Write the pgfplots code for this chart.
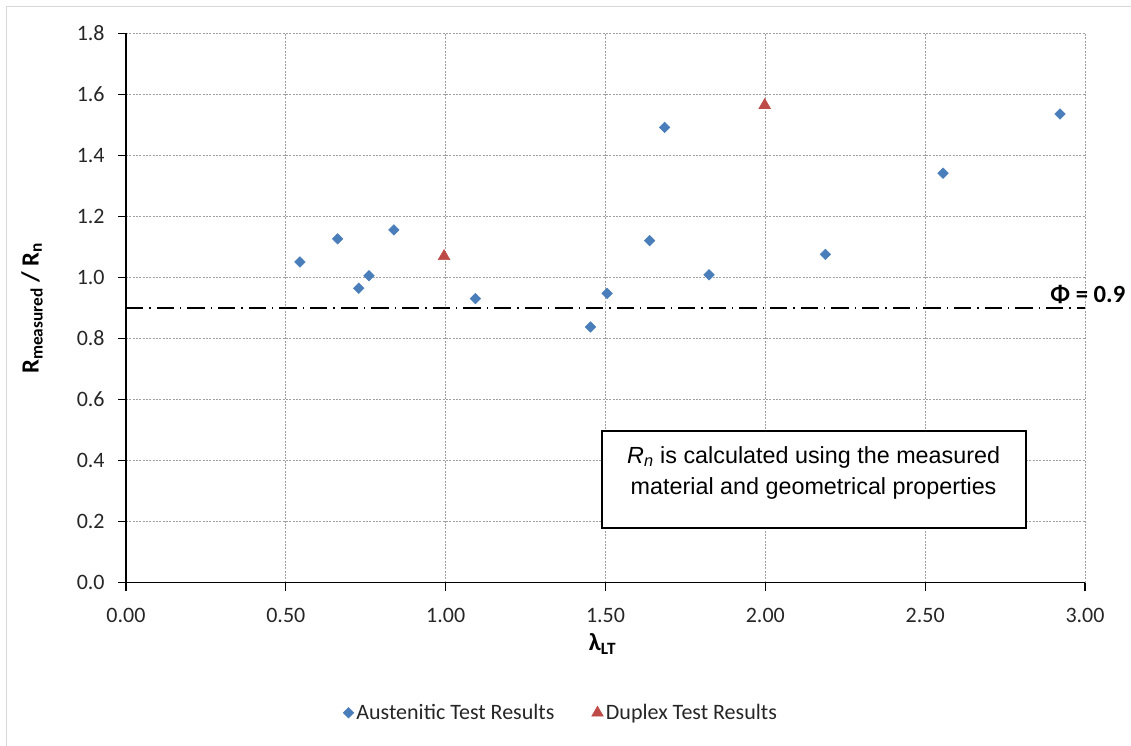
\documentclass[border=0pt]{standalone}
\usepackage{pgfplots}
\pgfplotsset{compat=1.18}
\usepackage{fontspec}
\setmainfont{Carlito}
\newfontfamily\arialfont{Liberation Sans}
\definecolor{austblue}{HTML}{4A7EBB}
\definecolor{duplexred}{HTML}{BE4B48}
\definecolor{gridgray}{HTML}{A0A0A0}
\definecolor{framegray}{HTML}{D9D9D9}
\definecolor{ticktext}{HTML}{262626}
\newcommand{\tfont}{\fontsize{16.5}{20}\selectfont}
\newcommand{\lfont}{\fontsize{18.5}{22}\selectfont}
\begin{document}
\begin{tikzpicture}
\useasboundingbox (-94.5pt,-122.475pt) rectangle (753.75pt,437.0pt);
\draw[framegray, line width=0.75pt] (-89.25pt,-130pt) -- (-89.25pt,431.8pt) -- (760pt,431.8pt);
\begin{axis}[
  at={(0pt,0pt)}, anchor=south west,
  scale only axis, width=719.25pt, height=411.9pt,
  xmin=0, xmax=3, ymin=0, ymax=1.8,
  xtick={0,0.5,1,1.5,2,2.5,3},
  ytick={0,0.2,0.4,0.6,0.8,1.0,1.2,1.4,1.6,1.8},
  axis x line*=bottom, axis y line*=left,
  axis line style={black, line width=1pt},
  tick align=outside, major tick length=6pt,
  tick style={black, line width=0.8pt},
  grid=major,
  major grid style={gridgray, line width=0.75pt, dash pattern=on 1.5pt off 1pt},
  clip=false,
  /pgf/number format/assume math mode=true,
  ticklabel style={font=\tfont, text=ticktext},
  xticklabel style={yshift=-10pt, /pgf/number format/.cd, fixed, fixed zerofill, precision=2},
  yticklabel style={xshift=-6.5pt, /pgf/number format/.cd, fixed, fixed zerofill, precision=1},
  xlabel={\textbf{λ\textsubscript{LT}}},
  ylabel={\textbf{R\textsubscript{measured} / R\textsubscript{n}}},
  xlabel style={font=\lfont, at={(axis description cs:0.497,-0.112)}, anchor=center},
  ylabel style={font=\lfont, at={(axis description cs:-0.098,0.5)}, anchor=center},
  legend style={at={(0.454,-0.237)}, anchor=center, draw=none, legend columns=2,
    font=\tfont, text=ticktext,
    /tikz/every even column/.append style={column sep=26pt}},
]
\addplot[black, line width=1.5pt, dash pattern=on 13pt off 4.5pt on 1pt off 4.5pt, forget plot]
  coordinates {(0,0.9) (3,0.9)};
\addplot[only marks, mark=square*, mark size=2.8pt, mark options={rotate=45, fill=austblue, draw=austblue}]
  coordinates {
  (0.544,1.051) (0.662,1.127) (0.728,0.965) (0.760,1.006) (0.838,1.156)
  (1.093,0.931) (1.453,0.838) (1.505,0.948) (1.638,1.121) (1.685,1.492)
  (1.824,1.009) (2.188,1.076) (2.556,1.342) (2.922,1.536)
  };
\addlegendentry{Austenitic Test Results}
\addplot[only marks, mark=triangle*, mark size=5pt, mark options={fill=duplexred, draw=duplexred}]
  coordinates {(0.995,1.070) (1.998,1.565)};
\addlegendentry{Duplex Test Results}
\draw[black, line width=1.5pt, fill=white] (axis cs:1.488,0.497) rectangle (axis cs:2.814,0.178);
\node[font=\arialfont\fontsize{17.5}{23}\selectfont, align=center] at (axis cs:2.151,0.360)
  {\textit{R}\textsubscript{\textit{n}} is calculated using the measured\\material and geometrical properties};
\node[font=\bfseries\lfont] at (axis cs:3.009,0.946) {Φ = 0.9};
\end{axis}
\end{tikzpicture}
\end{document}
